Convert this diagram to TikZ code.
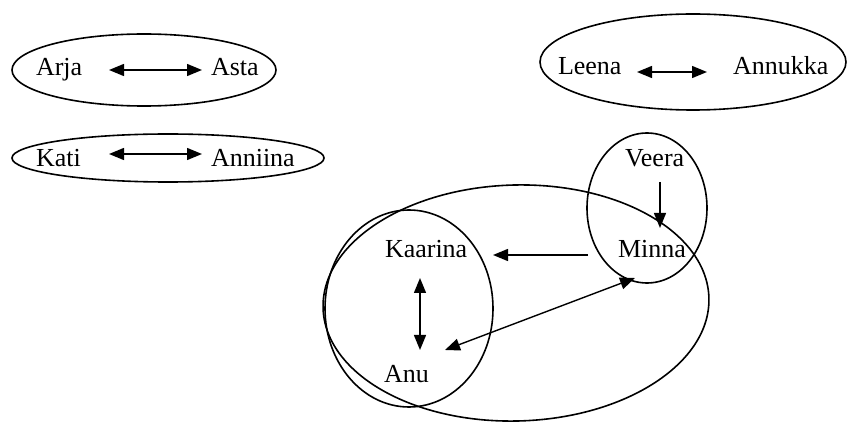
\documentclass[tikz,border=0pt]{standalone}
\usepackage{fontspec}
\setmainfont{Liberation Serif}
\usetikzlibrary{arrows.meta}
\tikzset{
  person/.style={inner sep=0pt, outer sep=0pt, anchor=base west,
               font=\fontsize{26}{30}\selectfont},
  group/.style={line width=1.6pt},
  tip/.tip={Triangle[length=15pt,width=12pt]},
  oneway/.style={line width=1.4pt, -tip},
  twoway/.style={line width=1.4pt, tip-tip},
}
\begin{document}
\begin{tikzpicture}[x=1pt,y=-1pt]
\useasboundingbox (0,0) rectangle (847,422);

% groups
\draw[group] (144,70) ellipse [x radius=132, y radius=36];
\draw[group] (168,158) ellipse [x radius=156, y radius=24];
\draw[group] (693,62) ellipse [x radius=153, y radius=48];
\draw[group] (647,208) ellipse [x radius=60, y radius=75];
\draw[group] (409,308.5) ellipse [x radius=84, y radius=98.5];
\draw[group, rotate around={1.5:(516,303)}] (516,303) ellipse [x radius=193, y radius=118];

% people
\node[person] (arja)    at (36,76)   {Arja};
\node[person] (asta)    at (211,76)  {Asta};
\node[person] (kati)    at (36,167)  {Kati};
\node[person] (anniina) at (211,167) {Anniina};
\node[person] (leena)   at (558,75)  {Leena};
\node[person] (annukka) at (733,75)  {Annukka};
\node[person] (veera)   at (625,167) {Veera};
\node[person] (minna)   at (618,258) {Minna};
\node[person] (kaarina) at (385,258) {Kaarina};
\node[person] (anu)     at (384,382) {Anu};

% connector end points
\coordinate (arjaR)    at (109,70);
\coordinate (astaL)    at (202,70);
\coordinate (katiR)    at (109,154);
\coordinate (anniinaL) at (202,154);
\coordinate (leenaR)   at (637,72);
\coordinate (annukkaL) at (707,72);
\coordinate (veeraB)   at (660,182);
\coordinate (minnaT)   at (660,228);
\coordinate (minnaL)   at (588,255);
\coordinate (kaarinaR) at (493,255);
\coordinate (kaarinaB) at (420,278);
\coordinate (anuT)     at (420,350);
\coordinate (anuR)     at (445,350);
\coordinate (minnaB)   at (635,278);

% relations
\draw[twoway] (arjaR) -- (astaL);
\draw[twoway] (katiR) -- (anniinaL);
\draw[twoway] (leenaR) -- (annukkaL);
\draw[oneway] (veeraB) -- (minnaT);
\draw[oneway] (minnaL) -- (kaarinaR);
\draw[twoway] (kaarinaB) -- (anuT);
\draw[twoway] (anuR) -- (minnaB);
\end{tikzpicture}
\end{document}
